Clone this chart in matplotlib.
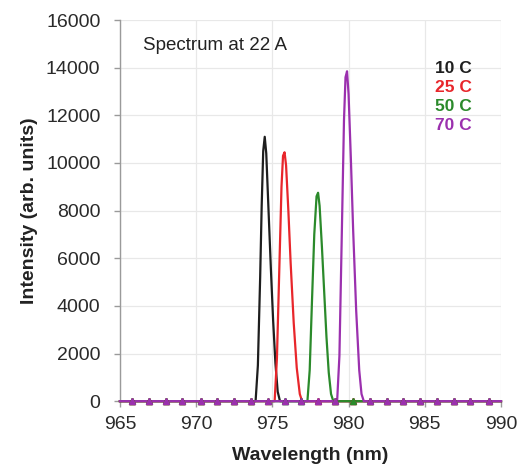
import matplotlib
import numpy as np

matplotlib.use("Agg")
import matplotlib.pyplot as plt

plt.rcParams["font.family"] = ["Liberation Sans", "DejaVu Sans"]

# peak samples for each temperature (nm, arb. units)
wl_10c = [965.0, 973.9, 974.05, 974.2, 974.3, 974.4, 974.5, 974.6, 974.75, 974.9, 975.05, 975.2, 975.35, 975.5, 990.0]
int_10c = [0, 0, 1500, 5200, 8200, 10500, 11100, 10400, 8000, 5600, 3400, 1600, 400, 0, 0]

wl_25c = [965.0, 975.15, 975.3, 975.45, 975.6, 975.7, 975.8, 975.9, 976.05, 976.2, 976.4, 976.6, 976.8, 976.95, 990.0]
int_25c = [0, 0, 1800, 5400, 9000, 10300, 10450, 9900, 8000, 5800, 3300, 1400, 300, 0, 0]

wl_50c = [965.0, 977.3, 977.45, 977.6, 977.75, 977.9, 978.0, 978.1, 978.25, 978.4, 978.55, 978.7, 978.85, 979.0, 990.0]
int_50c = [0, 0, 1300, 4200, 7000, 8600, 8750, 8200, 6500, 4600, 2700, 1200, 300, 0, 0]

wl_70c = [965.0, 979.25, 979.4, 979.55, 979.7, 979.8, 979.9, 980.0, 980.15, 980.3, 980.5, 980.7, 980.85, 981.0, 990.0]
int_70c = [0, 0, 1900, 6800, 11800, 13600, 13850, 12900, 10200, 7200, 3800, 1300, 300, 0, 0]

# sparse marker positions along the spectra
marker_wl = [965.8, 966.9, 968.0, 969.1, 970.3, 971.4, 972.5, 973.6, 974.7, 975.8, 976.9,
             978.0, 979.1, 980.3, 981.4, 982.5, 983.6, 984.7, 985.8, 986.9, 988.0, 989.2]

labels = ["10 C", "25 C", "50 C", "70 C"]
colors = ["#1e1e1e", "#e8262b", "#2b8a2b", "#9b30ae"]
series = [(wl_10c, int_10c), (wl_25c, int_25c), (wl_50c, int_50c), (wl_70c, int_70c)]

fig = plt.figure(figsize=(5.17, 4.67), dpi=100)
ax = fig.add_axes([0.232, 0.141, 0.737, 0.816])

for (wl, inten), color in zip(series, colors):
    ax.plot(wl, inten, color=color, linewidth=1.6, zorder=3, clip_on=False)
    # markers only where this trace sits on the baseline
    at_marks = np.interp(marker_wl, wl, inten)
    mx = [w for w, v in zip(marker_wl, at_marks) if v == 0]
    ax.plot(mx, np.zeros(len(mx)), linestyle="none", marker="^", markersize=4,
            color=color, zorder=4, clip_on=False)

ax.set_xlim(965, 990)
ax.set_ylim(0, 16000)
ax.set_xticks(np.arange(965, 991, 5))
ax.set_yticks(np.arange(0, 16001, 2000))
ax.grid(True, color="#e8e8e8", linewidth=0.9, zorder=0)
ax.set_axisbelow(True)
for side in ("top", "right"):
    ax.spines[side].set_visible(False)
for side in ("left", "bottom"):
    ax.spines[side].set_color("#9a9a9a")
    ax.spines[side].set_linewidth(1.0)
ax.tick_params(axis="both", labelsize=14, color="#9a9a9a", length=4, width=1.0,
               labelcolor="#2a2a2a")
ax.tick_params(axis="x", pad=7)
ax.tick_params(axis="y", pad=10)
ax.set_xlabel("Wavelength (nm)", fontsize=14, fontweight="bold", color="#222222", labelpad=10)
ax.set_ylabel("Intensity (arb. units)", fontsize=14, fontweight="bold", color="#222222", labelpad=6)

ax.text(0.06, 0.932, "Spectrum at 22 A", transform=ax.transAxes, fontsize=13.5,
        color="#222222", va="center")
for i, (label, color) in enumerate(zip(labels, colors)):
    ax.text(0.828, 0.873 - i * 0.05, label, transform=ax.transAxes, fontsize=12.5,
            fontweight="bold", color=color, va="center")

fig.savefig("out.png", dpi=100)
